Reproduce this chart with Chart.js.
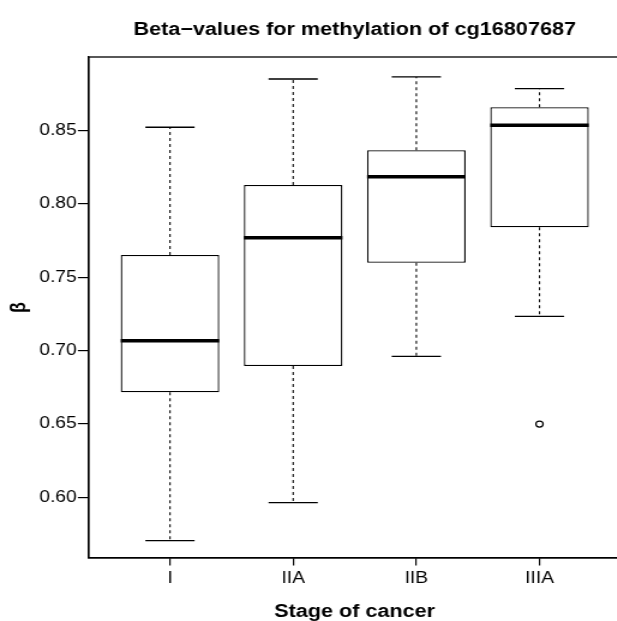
<!DOCTYPE html>
<html>
<head>
<meta charset="utf-8">
<script src="https://cdn.jsdelivr.net/npm/chart.js@4"></script>
<style>
  html, body { margin: 0; padding: 0; background: #fff; }
  #wrap { width: 617px; height: 621px; overflow: hidden; position: relative; }
  #boxChart { transform: scaleX(1.2); transform-origin: 0 0; }
</style>
</head>
<body>
<div id="wrap"><canvas id="boxChart" width="534" height="640"></canvas></div>
<script>
// Beta-values per stage
var stages = ['I', 'IIA', 'IIB', 'IIIA'];
var whiskerLow = [0.5705, 0.5964, 0.6962, 0.7234];
var q1 = [0.6716, 0.6896, 0.7600, 0.7841];
var median = [0.7068, 0.7770, 0.8186, 0.8537];
var q3 = [0.7653, 0.8130, 0.8366, 0.8660];
var whiskerHigh = [0.8523, 0.8852, 0.8866, 0.8786];
var outlierStage = [4];
var outlierValue = [0.650];
var yTicks = [0.60, 0.65, 0.70, 0.75, 0.80, 0.85];

var font = '"Liberation Sans", Arial, Helvetica, sans-serif';

// whiskers, caps, medians and the frame around the plot
var boxExtras = {
  id: 'boxExtras',
  afterDatasetsDraw: function (chart) {
    var ctx = chart.ctx;
    var x = chart.scales.x, y = chart.scales.y;
    var bars = chart.getDatasetMeta(0).data;
    ctx.save();
    ctx.strokeStyle = '#000';
    for (var i = 0; i < stages.length; i++) {
      var cx = x.getPixelForValue(i + 1);
      var half = bars[i].width / 2;
      // dashed whiskers
      ctx.lineWidth = 1.1;
      ctx.setLineDash([3, 3]);
      ctx.beginPath();
      ctx.moveTo(cx, y.getPixelForValue(q3[i]));
      ctx.lineTo(cx, y.getPixelForValue(whiskerHigh[i]));
      ctx.moveTo(cx, y.getPixelForValue(q1[i]));
      ctx.lineTo(cx, y.getPixelForValue(whiskerLow[i]));
      ctx.stroke();
      // caps
      ctx.setLineDash([]);
      ctx.lineWidth = 1.3;
      ctx.beginPath();
      ctx.moveTo(cx - half / 2, y.getPixelForValue(whiskerHigh[i]));
      ctx.lineTo(cx + half / 2, y.getPixelForValue(whiskerHigh[i]));
      ctx.moveTo(cx - half / 2, y.getPixelForValue(whiskerLow[i]));
      ctx.lineTo(cx + half / 2, y.getPixelForValue(whiskerLow[i]));
      ctx.stroke();
      // median
      ctx.lineWidth = 3.5;
      ctx.beginPath();
      ctx.moveTo(cx - half, y.getPixelForValue(median[i]));
      ctx.lineTo(cx + half, y.getPixelForValue(median[i]));
      ctx.stroke();
    }
    var a = chart.chartArea;
    ctx.lineWidth = 1.3;
    ctx.strokeRect(a.left, a.top, a.right - a.left, a.bottom - a.top);
    ctx.restore();
  },
  afterDraw: function (chart) {
    var ctx = chart.ctx, a = chart.chartArea;
    ctx.save();
    ctx.fillStyle = '#000';
    ctx.font = 'bold 18px ' + font;
    ctx.textAlign = 'center';
    ctx.textBaseline = 'alphabetic';
    ctx.fillText('Beta\u2212values for methylation of cg16807687', (a.left + a.right) / 2, 35);
    ctx.restore();
  }
};

var boxData = stages.map(function (s, i) { return { x: i + 1, y: [q1[i], q3[i]] }; });
var outliers = outlierStage.map(function (s, i) { return { x: s, y: outlierValue[i] }; });

new Chart(document.getElementById('boxChart'), {
  type: 'bar',
  data: {
    datasets: [
      {
        label: 'Box',
        data: boxData,
        backgroundColor: '#fff',
        borderColor: '#000',
        borderWidth: 1.3,
        borderSkipped: false,
        barPercentage: 0.8,
        categoryPercentage: 1.0
      },
      {
        type: 'scatter',
        label: 'Outlier',
        data: outliers,
        pointStyle: 'circle',
        pointRadius: 3,
        borderColor: '#000',
        backgroundColor: 'rgba(0,0,0,0)',
        borderWidth: 1.2
      }
    ]
  },
  options: {
    responsive: false,
    animation: false,
    layout: { padding: { left: 0, right: 16.7, top: 57, bottom: 0 } },
    plugins: { legend: { display: false }, tooltip: { enabled: false }, title: { display: false } },
    scales: {
      x: {
        type: 'linear',
        min: 0.34,
        max: 4.66,
        offset: false,
        afterBuildTicks: function (scale) {
          scale.ticks = stages.map(function (s, i) { return { value: i + 1 }; });
        },
        afterFit: function (scale) { scale.height = 82; },
        ticks: {
          color: '#000',
          font: { family: font, size: 16 },
          padding: 3,
          maxRotation: 0,
          autoSkip: false,
          callback: function (v) { return stages[v - 1]; }
        },
        grid: { display: true, drawOnChartArea: false, drawTicks: true, tickLength: 7.5, color: '#000', lineWidth: 1.2, offset: false },
        border: { display: true, color: '#000', width: 1.3 },
        title: {
          display: true,
          text: 'Stage of cancer',
          color: '#000',
          font: { family: font, size: 18, weight: 'bold' },
          padding: { top: 0, bottom: 17.4 }
        }
      },
      y: {
        min: 0.5587,
        max: 0.9002,
        afterBuildTicks: function (scale) {
          scale.ticks = yTicks.map(function (v) { return { value: v }; });
        },
        afterFit: function (scale) { scale.width = 73.9; },
        ticks: {
          color: '#000',
          font: { family: font, size: 16 },
          padding: 1,
          callback: function (v) { return v.toFixed(2); }
        },
        grid: { display: true, drawOnChartArea: false, drawTicks: true, tickLength: 9, color: '#000', lineWidth: 1.2 },
        border: { display: true, color: '#000', width: 1.3 },
        title: {
          display: true,
          text: '\u03b2',
          color: '#000',
          font: { family: font, size: 18, weight: 'bold' },
          padding: { top: 5, bottom: 0 }
        }
      }
    }
  },
  plugins: [boxExtras]
});
</script>
</body>
</html>
